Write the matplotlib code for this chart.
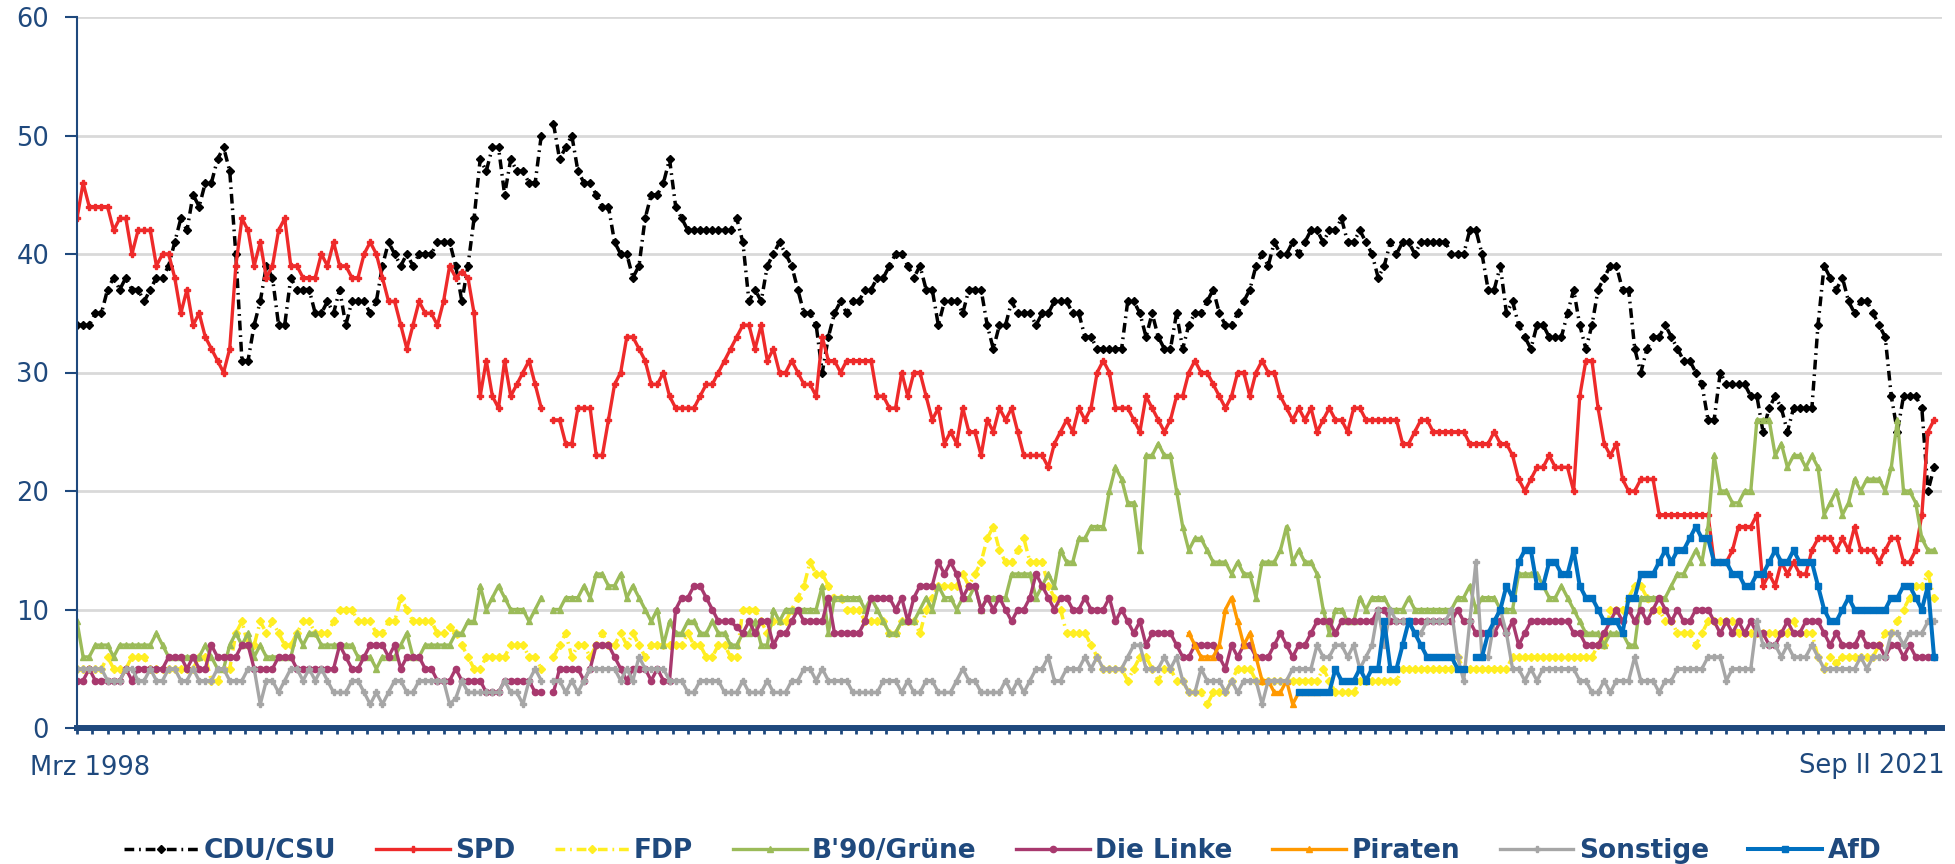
import numpy as np
import matplotlib.pyplot as plt

nan = np.nan

# Politbarometer-Projektion, Mrz 1998 ... Sep II 2021
cdu = [
    34, 34, 34, 35, 35, 37, 38, 37, 38, 37,
    37, 36, 37, 38, 38, 39, 41, 43, 42, 45,
    44, 46, 46, 48, 49, 47, 40, 31, 31, 34,
    36, 39, 38, 34, 34, 38, 37, 37, 37, 35,
    35, 36, 35, 37, 34, 36, 36, 36, 35, 36,
    39, 41, 40, 39, 40, 39, 40, 40, 40, 41,
    41, 41, 39, 36, 39, 43, 48, 47, 49, 49,
    45, 48, 47, 47, 46, 46, 50, nan, 51, 48,
    49, 50, 47, 46, 46, 45, 44, 44, 41, 40,
    40, 38, 39, 43, 45, 45, 46, 48, 44, 43,
    42, 42, 42, 42, 42, 42, 42, 42, 43, 41,
    36, 37, 36, 39, 40, 41, 40, 39, 37, 35,
    35, 34, 30, 33, 35, 36, 35, 36, 36, 37,
    37, 38, 38, 39, 40, 40, 39, 38, 39, 37,
    37, 34, 36, 36, 36, 35, 37, 37, 37, 34,
    32, 34, 34, 36, 35, 35, 35, 34, 35, 35,
    36, 36, 36, 35, 35, 33, 33, 32, 32, 32,
    32, 32, 36, 36, 35, 33, 35, 33, 32, 32,
    35, 32, 34, 35, 35, 36, 37, 35, 34, 34,
    35, 36, 37, 39, 40, 39, 41, 40, 40, 41,
    40, 41, 42, 42, 41, 42, 42, 43, 41, 41,
    42, 41, 40, 38, 39, 41, 40, 41, 41, 40,
    41, 41, 41, 41, 41, 40, 40, 40, 42, 42,
    40, 37, 37, 39, 35, 36, 34, 33, 32, 34,
    34, 33, 33, 33, 35, 37, 34, 32, 34, 37,
    38, 39, 39, 37, 37, 32, 30, 32, 33, 33,
    34, 33, 32, 31, 31, 30, 29, 26, 26, 30,
    29, 29, 29, 29, 28, 28, 25, 27, 28, 27,
    25, 27, 27, 27, 27, 34, 39, 38, 37, 38,
    36, 35, 36, 36, 35, 34, 33, 28, 25, 28,
    28, 28, 27, 20, 22,
]

spd = [
    43, 46, 44, 44, 44, 44, 42, 43, 43, 40,
    42, 42, 42, 39, 40, 40, 38, 35, 37, 34,
    35, 33, 32, 31, 30, 32, 39, 43, 42, 39,
    41, 38, 39, 42, 43, 39, 39, 38, 38, 38,
    40, 39, 41, 39, 39, 38, 38, 40, 41, 40,
    38, 36, 36, 34, 32, 34, 36, 35, 35, 34,
    36, 39, 38, 38.5, 38, 35, 28, 31, 28, 27,
    31, 28, 29, 30, 31, 29, 27, nan, 26, 26,
    24, 24, 27, 27, 27, 23, 23, 26, 29, 30,
    33, 33, 32, 31, 29, 29, 30, 28, 27, 27,
    27, 27, 28, 29, 29, 30, 31, 32, 33, 34,
    34, 32, 34, 31, 32, 30, 30, 31, 30, 29,
    29, 28, 33, 31, 31, 30, 31, 31, 31, 31,
    31, 28, 28, 27, 27, 30, 28, 30, 30, 28,
    26, 27, 24, 25, 24, 27, 25, 25, 23, 26,
    25, 27, 26, 27, 25, 23, 23, 23, 23, 22,
    24, 25, 26, 25, 27, 26, 27, 30, 31, 30,
    27, 27, 27, 26, 25, 28, 27, 26, 25, 26,
    28, 28, 30, 31, 30, 30, 29, 28, 27, 28,
    30, 30, 28, 30, 31, 30, 30, 28, 27, 26,
    27, 26, 27, 25, 26, 27, 26, 26, 25, 27,
    27, 26, 26, 26, 26, 26, 26, 24, 24, 25,
    26, 26, 25, 25, 25, 25, 25, 25, 24, 24,
    24, 24, 25, 24, 24, 23, 21, 20, 21, 22,
    22, 23, 22, 22, 22, 20, 28, 31, 31, 27,
    24, 23, 24, 21, 20, 20, 21, 21, 21, 18,
    18, 18, 18, 18, 18, 18, 18, 18, 14, 14,
    14, 15, 17, 17, 17, 18, 12, 13, 12, 14,
    13, 14, 13, 13, 15, 16, 16, 16, 15, 16,
    15, 17, 15, 15, 15, 14, 15, 16, 16, 14,
    14, 15, 18, 25, 26,
]

fdp = [
    5, 5, 5, 5, 5, 6, 5, 5, 5, 6,
    6, 6, 5, 5, 5, 5, 5, 5, 5, 5,
    6, 6, 4, 4, 5, 5, 8, 9, 7, 7,
    9, 8, 9, 8, 7, 7, 8, 9, 9, 8,
    8, 8, 9, 10, 10, 10, 9, 9, 9, 8,
    8, 9, 9, 11, 10, 9, 9, 9, 9, 8,
    8, 8.5, 8, 7, 6, 5, 5, 6, 6, 6,
    6, 7, 7, 7, 6, 6, 5, nan, 6, 7,
    8, 6, 7, 7, 6, 7, 8, 7, 7, 8,
    7, 8, 7, 6, 7, 7, 7, 7, 7, 7,
    8, 7, 7, 6, 6, 7, 7, 6, 6, 10,
    10, 10, 9, 8, 9, 9, 9, 10, 11, 12,
    14, 13, 13, 12, 11, 11, 10, 10, 10, 9,
    9, 9, 9, 8, 8, 9, 9, 9, 8, 10,
    11, 12, 12, 12, 12, 13, 12, 13, 14, 16,
    17, 15, 14, 14, 15, 16, 14, 14, 14, 12,
    11, 10, 8, 8, 8, 8, 7, 6, 5, 5,
    5, 5, 4, 5, 6, 6, 5, 4, 5, 5,
    4, 4, 3, 3, 3, 2, 3, 3, 3, 4,
    5, 5, 5, 4, 4, 4, 4, 4, 4, 4,
    4, 4, 4, 4, 5, 4, 3, 3, 3, 3,
    4, 4, 4, 4, 4, 4, 4, 5, 5, 5,
    5, 5, 5, 5, 5, 5, 6, 5, 5, 5,
    5, 5, 5, 5, 5, 6, 6, 6, 6, 6,
    6, 6, 6, 6, 6, 6, 6, 6, 6, 7,
    7, 10, 10, 10, 11, 12, 12, 11, 10, 10,
    9, 9, 8, 8, 8, 7, 8, 9, 9, 9,
    9, 9, 8, 8, 8, 8, 8, 8, 8, 8,
    8, 9, 8, 8, 8, 6, 5, 6, 5.5, 6,
    6, 6, 6, 6, 6, 7, 8, 8, 9, 10,
    11, 12, 12, 13, 11,
]

gruene = [
    9, 6, 6, 7, 7, 7, 6, 7, 7, 7,
    7, 7, 7, 8, 7, 6, 6, 6, 6, 6,
    6, 7, 6, 5, 5, 7, 8, 7, 8, 6,
    7, 6, 6, 6, 6, 6, 8, 7, 8, 8,
    7, 7, 7, 7, 7, 7, 6, 6, 6, 5,
    6, 6, 6, 7, 8, 6, 6, 7, 7, 7,
    7, 7, 8, 8, 9, 9, 12, 10, 11, 12,
    11, 10, 10, 10, 9, 10, 11, nan, 10, 10,
    11, 11, 11, 12, 11, 13, 13, 12, 12, 13,
    11, 12, 11, 10, 9, 10, 7, 9, 8, 8,
    9, 9, 8, 8, 9, 8, 8, 7, 7, 8,
    8, 9, 7, 7, 10, 9, 10, 10, 10, 10,
    10, 10, 12, 8, 11, 11, 11, 11, 11, 10,
    11, 10, 9, 8, 8, 9, 9, 9, 10, 11,
    10, 12, 11, 11, 10, 11, 11, 12, 10, 11,
    11, 11, 11, 13, 13, 13, 13, 11, 12, 13,
    12, 15, 14, 14, 16, 16, 17, 17, 17, 20,
    22, 21, 19, 19, 15, 23, 23, 24, 23, 23,
    20, 17, 15, 16, 16, 15, 14, 14, 14, 13,
    14, 13, 13, 11, 14, 14, 14, 15, 17, 14,
    15, 14, 14, 13, 10, 8, 10, 10, 9, 9,
    11, 10, 11, 11, 11, 10, 10, 10, 11, 10,
    10, 10, 10, 10, 10, 10, 11, 11, 12, 10,
    11, 11, 11, 10, 10, 10, 13, 13, 13, 13,
    12, 11, 11, 12, 11, 10, 9, 8, 8, 8,
    7, 8, 8, 8, 7, 7, 11, 11, 11, 11,
    11, 12, 13, 13, 14, 15, 14, 17, 23, 20,
    20, 19, 19, 20, 20, 26, 26, 26, 23, 24,
    22, 23, 23, 22, 23, 22, 18, 19, 20, 18,
    19, 21, 20, 21, 21, 21, 20, 22, 26, 20,
    20, 19, 16, 15, 15,
]

linke = [
    4, 4, 5, 4, 4, 4, 4, 4, 5, 4,
    5, 5, 5, 5, 5, 6, 6, 6, 5, 6,
    5, 5, 7, 6, 6, 6, 6, 7, 7, 5,
    5, 5, 5, 6, 6, 6, 5, 5, 5, 5,
    5, 5, 5, 7, 6, 5, 5, 6, 7, 7,
    7, 6, 7, 5, 6, 6, 6, 5, 5, 4,
    4, 4, 5, 4, 4, 4, 4, 3, 3, 3,
    4, 4, 4, 4, 4, 3, 3, nan, 3, 5,
    5, 5, 5, 4, 5, 7, 7, 7, 6, 5,
    4, 5, 5, 5, 4, 5, 4, 4, 10, 11,
    11, 12, 12, 11, 10, 9, 9, 9, 8.5, 8,
    9, 8, 9, 9, 7, 8, 8, 9, 10, 9,
    9, 9, 9, 11, 8, 8, 8, 8, 8, 9,
    11, 11, 11, 11, 10, 11, 9, 11, 12, 12,
    12, 14, 13, 14, 13, 11, 12, 12, 10, 11,
    10, 11, 10, 9, 10, 10, 11, 13, 12, 11,
    10, 11, 11, 10, 10, 11, 10, 10, 10, 11,
    9, 10, 9, 8, 9, 7, 8, 8, 8, 8,
    7, 6, 6, 7, 7, 7, 7, 6, 5, 7,
    6, 7, 7, 6, 6, 6, 7, 8, 7, 6,
    7, 7, 8, 9, 9, 9, 8, 9, 9, 9,
    9, 9, 9, 10, 10, 9, 9, 9, 9, 9,
    9, 9, 9, 9, 9, 9, 10, 9, 9, 8,
    8, 8, 8, 9, 8, 9, 7, 8, 9, 9,
    9, 9, 9, 9, 9, 8, 8, 7, 7, 7,
    8, 9, 10, 9, 10, 9, 10, 9, 10, 11,
    10, 9, 10, 9, 9, 10, 10, 10, 9, 8,
    9, 8, 9, 8, 9, 8, 8, 7, 7, 8,
    9, 8, 8, 9, 9, 9, 8, 7, 8, 7,
    7, 7, 8, 7, 7, 7, 6, 7, 7, 6,
    7, 6, 6, 6, 6,
]

piraten_start = 182
piraten = [8, 7, 6, 6, 6, 7, 10, 11, 9, 7, 8, 6, 4, 4, 3, 3, 4, 2, 3, 3, 3, 3]

sonstige = [
    5, 5, 5, 5, 5, 4, 4, 4, 5, 5,
    4, 4, 5, 4, 4, 5, 5, 4, 4, 5,
    4, 4, 4, 5, 5, 4, 4, 4, 5, 5,
    2, 4, 4, 3, 4, 5, 5, 4, 5, 4,
    5, 4, 3, 3, 3, 4, 4, 3, 2, 3,
    2, 3, 4, 4, 3, 3, 4, 4, 4, 4,
    4, 2, 2.5, 4, 3, 3, 3, 3, 3, 3,
    4, 3, 3, 2, 4, 5, 4, nan, 4, 4,
    3, 4, 3, 4, 5, 5, 5, 5, 5, 4,
    5, 4, 6, 5, 5, 5, 5, 4, 4, 4,
    3, 3, 4, 4, 4, 4, 3, 3, 3, 4,
    3, 3, 3, 4, 3, 3, 3, 4, 4, 5,
    5, 4, 5, 4, 4, 4, 4, 3, 3, 3,
    3, 3, 4, 4, 4, 3, 4, 3, 3, 4,
    4, 3, 3, 3, 4, 5, 4, 4, 3, 3,
    3, 3, 4, 3, 4, 3, 4, 5, 5, 6,
    4, 4, 5, 5, 5, 6, 5, 6, 5, 5,
    5, 5, 6, 7, 7, 5, 5, 5, 6, 5,
    6, 4, 3, 3, 5, 4, 4, 4, 3, 4,
    3, 4, 4, 4, 2, 4, 4, 4, 4, 5,
    5, 5, 5, 7, 6, 6, 7, 7, 6, 7,
    5, 6, 7, 10, 7, 10, 9, 9, 9, 8,
    8, 9, 9, 9, 9, 10, 6, 4, 9, 14,
    6, 6, 9, 10, 8, 5, 5, 4, 5, 4,
    5, 5, 5, 5, 5, 5, 4, 4, 3, 3,
    4, 3, 4, 4, 4, 6, 4, 4, 4, 3,
    4, 4, 5, 5, 5, 5, 5, 6, 6, 6,
    4, 5, 5, 5, 5, 9, 7, 7, 7, 6,
    7, 6, 6, 6, 7, 6, 5, 5, 5, 5,
    5, 5, 6, 5, 6, 6, 6, 8, 8, 7,
    8, 8, 8, 9, 9,
]

afd_start = 200
afd = [
    3, 3, 3, 3, 3, 3, 5, 4, 4, 4,
    5, 4, 5, 5, 9, 5, 5, 7, 9, 8,
    7, 6, 6, 6, 6, 6, 5, 5, nan, 6,
    6, 8, 9, 10, 12, 11, 14, 15, 15, 12,
    12, 14, 14, 13, 13, 15, 12, 11, 11, 10,
    9, 9, 9, 8, 11, 11, 13, 13, 13, 14,
    15, 14, 15, 15, 16, 17, 16, 16, 14, 14,
    14, 13, 13, 12, 12, 13, 13, 14, 15, 14,
    14, 15, 14, 14, 14, 12, 10, 9, 9, 10,
    11, 10, 10, 10, 10, 10, 10, 11, 11, 12,
    12, 11, 10, 12, 6,
]

first_label = 'Mrz 1998'
last_label = 'Sep II 2021'

n = len(cdu)
x = np.arange(n)
pir = np.full(n, nan)
pir[piraten_start:piraten_start + len(piraten)] = piraten
alt = np.full(n, nan)
alt[afd_start:afd_start + len(afd)] = afd

navy = '#1F497D'

fig = plt.figure(figsize=(19.55, 8.64), dpi=100)
ax = fig.add_axes([77 / 1955, 1 - 728 / 864, (1942 - 77) / 1955, (728 - 17) / 864])

lw = 2.4
ax.plot(x, cdu, color='black', lw=2.5, dashes=[2.8, 1.4, 0.5, 1.4],
        marker='D', ms=3.6, label='CDU/CSU')
ax.plot(x, spd, color='#EE2A2A', lw=lw, marker='P', ms=4, label='SPD')
ax.plot(x, fdp, color='#FFEE22', lw=2.5, dashes=[2.8, 1.4, 0.5, 1.4],
        marker='D', ms=3.6, label='FDP')
ax.plot(x, gruene, color='#9BBB59', lw=lw, marker='^', ms=5, label="B'90/Grüne")
ax.plot(x, linke, color='#A8396E', lw=lw, marker='o', ms=4.5, label='Die Linke')
ax.plot(x, pir, color='#FF9900', lw=lw, marker='^', ms=5, label='Piraten')
ax.plot(x, sonstige, color='#A6A6A6', lw=lw, marker='P', ms=4, label='Sonstige')
ax.plot(x, alt, color='#0070C0', lw=2.9, marker='s', ms=4.5, label='AfD')

ax.set_xlim(0, n - 1 + 1.3)
ax.set_ylim(0, 60)
ax.set_yticks(np.arange(0, 61, 10))
ax.yaxis.grid(True, color='#D9D9D9', lw=2)
ax.set_axisbelow(True)

for s in ['top', 'right']:
    ax.spines[s].set_visible(False)
ax.spines['left'].set_color(navy)
ax.spines['left'].set_linewidth(1.5)
ax.spines['bottom'].set_color(navy)
ax.spines['bottom'].set_linewidth(4.3)

ax.tick_params(axis='y', direction='out', length=9, width=1.5, color=navy,
               labelcolor=navy, labelsize=18.5, pad=11)
ax.set_xticks(np.arange(0, n, 2.5))
ax.set_xticklabels([])
ax.tick_params(axis='x', direction='out', length=4, width=2, color=navy)

fig.text(30 / 1955, 1 - 768 / 864, first_label, ha='left', va='center',
         fontsize=18.5, color=navy)
fig.text(1945 / 1955, 1 - 766 / 864, last_label, ha='right', va='center',
         fontsize=18.5, color=navy)

handles, labels = ax.get_legend_handles_labels()
fig.legend(handles, labels, loc='center', bbox_to_anchor=(0.513, 13 / 864),
           ncol=8, frameon=False, prop={'weight': 'bold', 'size': 19},
           labelcolor=navy, handlelength=2.8, handletextpad=0.2,
           columnspacing=1.5, borderaxespad=0, borderpad=0)

fig.savefig('out.png', dpi=100)
